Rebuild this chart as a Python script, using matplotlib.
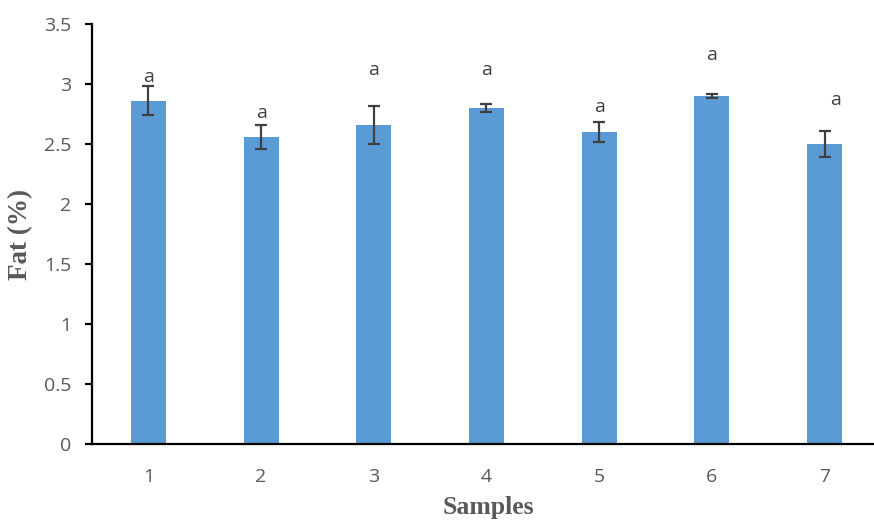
import matplotlib
matplotlib.use("Agg")
import matplotlib.pyplot as plt
import numpy as np

samples = ["1", "2", "3", "4", "5", "6", "7"]
fat = [2.86, 2.56, 2.66, 2.80, 2.60, 2.90, 2.50]
fat_err = [0.12, 0.10, 0.16, 0.03, 0.08, 0.02, 0.105]
letters = ["a", "a", "a", "a", "a", "a", "a"]
letter_y = [3.06, 2.76, 3.12, 3.12, 2.81, 3.24, 2.87]
letter_dx = [0, 0, 0, 0, 0, 0, 0.1]

bar_color = "#5b9bd5"
text_grey = "#595959"
sans = "Open Sans"

fig = plt.figure(figsize=(8.74, 5.21), dpi=100)
ax = fig.add_axes([92 / 874, 77 / 521, 789 / 874, 420 / 521])

x = np.arange(1, len(samples) + 1)
ax.bar(x, fat, width=0.31, color=bar_color, zorder=2)
ax.errorbar(x, fat, yerr=fat_err, fmt="none", ecolor="#404040",
            elinewidth=1.6, capsize=4, capthick=1.6, zorder=3)

for xi, dx, ly, t in zip(x, letter_dx, letter_y, letters):
    ax.text(xi + dx, ly, t, ha="center", va="center", fontsize=14,
            family=sans, color="#404040")

ax.set_xlim(0.5, 7.5)
ax.set_ylim(0, 3.5)
ax.set_yticks(np.arange(0, 3.51, 0.5))
ax.set_yticklabels(["0", "0.5", "1", "1.5", "2", "2.5", "3", "3.5"])
ax.set_xticks(x)
ax.set_xticklabels(samples)

for side in ["top", "right"]:
    ax.spines[side].set_visible(False)
for side in ["left", "bottom"]:
    ax.spines[side].set_linewidth(1.6)
    ax.spines[side].set_color("black")

ax.tick_params(axis="y", direction="out", length=5, width=1.6, pad=10,
               labelsize=14, labelcolor=text_grey)
ax.tick_params(axis="x", length=0, pad=17, labelsize=14, labelcolor=text_grey)
for lbl in ax.get_xticklabels() + ax.get_yticklabels():
    lbl.set_family(sans)

ax.set_ylabel("Fat (%)", family="Liberation Serif", fontweight="bold",
              fontsize=19.5, color=text_grey, labelpad=8)
fig.text(488 / 874, 1 - 514 / 521, "Samples", family="Liberation Serif",
         fontweight="bold", fontsize=18.5, color=text_grey,
         ha="center", va="baseline")

fig.savefig("out.png", dpi=100)
